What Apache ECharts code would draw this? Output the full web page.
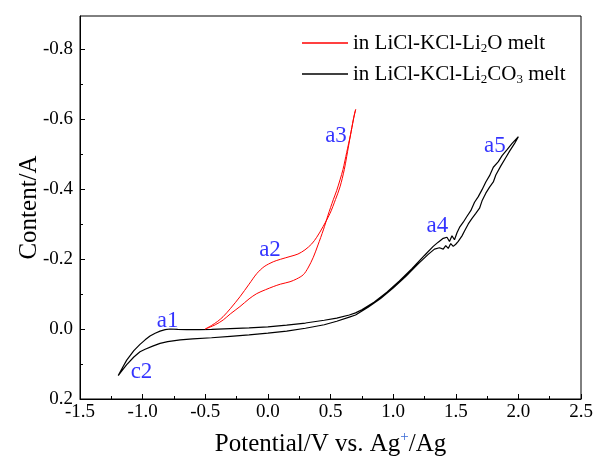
<!DOCTYPE html>
<html>
<head>
<meta charset="utf-8">
<script src="https://cdn.jsdelivr.net/npm/echarts@6/dist/echarts.min.js"></script>
<style>html,body{margin:0;padding:0;background:#fff}#c{width:595px;height:457px}</style>
</head>
<body>
<div id="c"></div>
<script>
// Red: in LiCl-KCl-Li2O melt (potential V, current A)
var redV = [-0.50,-0.45,-0.40,-0.358,-0.30,-0.223,-0.15,-0.089,-0.03,0.043,0.10,0.177,0.24,0.296,0.35,0.39,0.44,0.496,0.54,0.576,0.61,0.629,0.66,0.682,0.701,
            0.69,0.682,0.66,0.629,0.60,0.576,0.55,0.522,0.48,0.443,0.40,0.363,0.32,0.283,0.23,0.177,0.10,0.043,-0.02,-0.089,-0.15,-0.223,-0.30,-0.356,-0.42,-0.50];
var redI = [0.000,-0.010,-0.022,-0.035,-0.058,-0.092,-0.128,-0.158,-0.178,-0.192,-0.199,-0.207,-0.214,-0.226,-0.243,-0.262,-0.292,-0.330,-0.370,-0.406,-0.455,-0.492,-0.555,-0.597,-0.627,
            -0.612,-0.597,-0.555,-0.504,-0.456,-0.426,-0.396,-0.369,-0.325,-0.283,-0.240,-0.205,-0.174,-0.155,-0.143,-0.135,-0.128,-0.121,-0.112,-0.101,-0.086,-0.064,-0.043,-0.026,-0.012,0.000];
// Black: in LiCl-KCl-Li2CO3 melt
var blackV = [-1.195,-1.16,-1.127,-1.07,-1.021,-0.98,-0.941,-0.90,-0.861,-0.82,-0.781,-0.72,-0.648,-0.55,-0.45,-0.30,-0.15,0.0,0.15,0.30,0.45,0.55,0.65,0.70,0.75,0.85,0.95,1.05,1.15,1.25,1.32,
              1.36,1.40,1.43,1.45,1.47,1.49,1.51,1.53,1.56,1.59,1.62,1.65,1.68,1.71,1.74,1.77,1.80,1.84,1.87,1.91,1.95,2.00,
              1.97,1.93,1.90,1.86,1.82,1.80,1.77,1.74,1.71,1.69,1.66,1.63,1.60,1.57,1.55,1.52,1.50,1.48,1.46,1.44,1.42,1.40,1.37,1.33,1.28,
              1.20,1.10,1.00,0.90,0.80,0.70,0.65,0.55,0.45,0.30,0.15,0.0,-0.15,-0.30,-0.45,-0.60,-0.70,-0.80,-0.861,-0.92,-0.98,-1.021,-1.07,-1.127,-1.16,-1.195];
var blackI = [0.133,0.110,0.089,0.062,0.044,0.031,0.020,0.012,0.006,0.002,0.000,0.001,0.002,0.002,0.001,-0.001,-0.003,-0.006,-0.011,-0.017,-0.025,-0.031,-0.040,-0.046,-0.055,-0.077,-0.105,-0.137,-0.172,-0.210,-0.236,
              -0.248,-0.259,-0.262,-0.250,-0.266,-0.255,-0.275,-0.290,-0.305,-0.322,-0.338,-0.362,-0.378,-0.398,-0.420,-0.438,-0.462,-0.478,-0.495,-0.512,-0.530,-0.549,
              -0.530,-0.508,-0.490,-0.466,-0.440,-0.420,-0.405,-0.388,-0.366,-0.345,-0.330,-0.316,-0.300,-0.280,-0.266,-0.250,-0.242,-0.236,-0.244,-0.230,-0.238,-0.228,-0.232,-0.228,-0.213,
              -0.186,-0.150,-0.117,-0.087,-0.062,-0.040,-0.034,-0.022,-0.012,-0.002,0.006,0.012,0.017,0.021,0.025,0.028,0.031,0.036,0.041,0.049,0.058,0.065,0.080,0.102,0.117,0.133];
// Peak annotations
var annoText = ['a1','c2','a2','a3','a4','a5'];
var annoV = [-0.80,-1.009,0.017,0.544,1.354,1.813];
var annoI = [-0.023,0.123,-0.226,-0.551,-0.294,-0.523];
// Axis ticks
var yTickValues = [-0.8,-0.6,-0.4,-0.2,0.0,0.2];
var yMinorValues = [-0.7,-0.5,-0.3,-0.1,0.1];
var seriesNames = ['in LiCl-KCl-Li{s|2}O melt','in LiCl-KCl-Li{s|2}CO{s|3} melt'];

function pairs(a,b){var r=[];for(var i=0;i<a.length;i++)r.push([a[i],b[i]]);return r;}
var annoData=[];for(var i=0;i<annoText.length;i++)annoData.push({name:annoText[i],value:[annoV[i],annoI[i]]});

var FONT='Liberation Serif';
var chart=echarts.init(document.getElementById('c'),null,{renderer:'canvas'});
chart.setOption({
  animation:false,
  backgroundColor:'#fff',
  textStyle:{fontFamily:FONT},
  grid:{left:80,right:14,top:16,bottom:58,show:true,borderColor:'#000',borderWidth:1,backgroundColor:'transparent',containLabel:false,outerBoundsMode:'none'},
  legend:{
    data:seriesNames, orient:'vertical', left:297, top:26, itemWidth:46, itemHeight:1.5, itemGap:7, icon:'rect',
    textStyle:{fontFamily:FONT,fontSize:21,color:'#000',lineHeight:24,
      rich:{s:{fontFamily:FONT,fontSize:13,color:'#000',verticalAlign:'bottom',lineHeight:12}}},
    selectedMode:false
  },
  xAxis:{
    type:'value',min:-1.5,max:2.5,interval:0.5,
    name:'Potential/V vs. Ag{p|+}/Ag',nameLocation:'middle',nameGap:31,nameMoveOverlap:false,
    nameTextStyle:{fontFamily:FONT,fontSize:25,color:'#000',lineHeight:28,
      rich:{p:{fontFamily:FONT,fontSize:15,color:'#3a6ad6',verticalAlign:'top',lineHeight:15}}},
    axisLine:{show:true,onZero:false,lineStyle:{color:'#000',width:1}},
    axisTick:{show:true,inside:true,length:5,lineStyle:{color:'#000'}},
    minorTick:{show:true,splitNumber:2,length:3,lineStyle:{color:'#000'}},
    splitLine:{show:false},
    axisLabel:{fontFamily:FONT,fontSize:19,color:'#000',margin:4,formatter:function(v){return v.toFixed(1);}}
  },
  yAxis:[{
    type:'value',inverse:true,min:-0.894,max:0.2,
    name:'Content/A',nameLocation:'middle',nameGap:38,nameMoveOverlap:false,
    nameTextStyle:{fontFamily:FONT,fontSize:25,color:'#000'},
    axisLine:{show:true,onZero:false,lineStyle:{color:'#000',width:1}},
    axisTick:{show:true,inside:true,length:5,customValues:yTickValues,lineStyle:{color:'#000'}},
    splitLine:{show:false},
    axisLabel:{fontFamily:FONT,fontSize:19,color:'#000',margin:7,customValues:yTickValues,formatter:function(v){return v.toFixed(1);}}
  },{
    type:'value',inverse:true,min:-0.894,max:0.2,position:'left',
    axisLine:{show:false,onZero:false},
    axisTick:{show:true,inside:true,length:3,customValues:yMinorValues,lineStyle:{color:'#000'}},
    splitLine:{show:false},
    axisLabel:{show:false}
  }],
  series:[
    {name:seriesNames[0],type:'line',data:pairs(redV,redI),symbol:'none',smooth:0.3,lineStyle:{color:'#ff0000',width:1},itemStyle:{color:'#ff0000'},z:3},
    {name:seriesNames[1],type:'line',data:pairs(blackV,blackI),symbol:'none',lineStyle:{color:'#000',width:1.2},itemStyle:{color:'#000'},z:2},
    {type:'scatter',data:annoData,symbolSize:0,silent:true,
      label:{show:true,position:'inside',formatter:'{b}',fontFamily:FONT,fontSize:23,color:'#0000ff',textBorderWidth:0},z:4}
  ]
});
</script>
</body>
</html>
